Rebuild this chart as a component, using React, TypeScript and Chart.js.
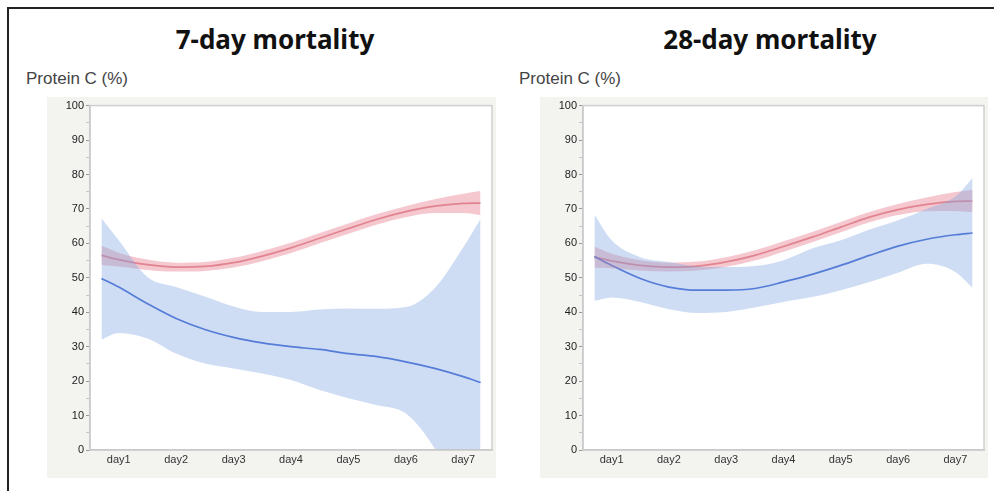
import React, { useEffect, useRef } from "react";
import { Chart, registerables } from "chart.js";

Chart.register(...registerables);

// ---- data ----
const dayTicks = [1, 2, 3, 4, 5, 6, 7];
const dayLabels = ["day1", "day2", "day3", "day4", "day5", "day6", "day7"];
const yTickValues = [0, 5, 10, 15, 20, 25, 30, 35, 40, 45, 50, 55, 60, 65, 70, 75, 80, 85, 90, 95, 100];
const curveX = [0.7, 1, 1.5, 2, 2.5, 3, 3.5, 4, 4.5, 5, 5.5, 6, 6.5, 7, 7.3];

// 7-day mortality panel
const d7SurvMid = [56.5, 55.3, 53.8, 53.1, 53.3, 54.4, 56.3, 58.7, 61.5, 64.3, 67.0, 69.2, 70.8, 71.6, 71.7];
const d7SurvUp = [59.3, 57.3, 55.3, 54.4, 54.6, 55.8, 57.8, 60.2, 63.0, 65.8, 68.5, 70.8, 72.8, 74.4, 75.2];
const d7SurvLo = [53.7, 53.3, 52.3, 51.8, 52.0, 53.0, 54.8, 57.2, 60.0, 62.8, 65.5, 67.6, 68.8, 68.8, 68.2];
const d7DeadMid = [49.8, 47.3, 42.5, 38.2, 35.0, 32.7, 31.1, 30.0, 29.2, 28.0, 27.1, 25.6, 23.7, 21.3, 19.6];
const d7DeadUp = [67.3, 60.9, 50.2, 47.3, 44.6, 41.7, 40.1, 40.1, 40.8, 41.1, 41.0, 41.5, 47.0, 58.9, 67.1];
const d7DeadLo = [32.1, 34.0, 32.4, 28.0, 25.1, 23.7, 22.2, 20.3, 17.4, 15.0, 13.0, 10.6, 0.5, -16.0, -28.0];

// 28-day mortality panel
const d28SurvMid = [56.0, 54.9, 53.6, 53.1, 53.4, 54.6, 56.5, 59.1, 61.8, 64.7, 67.6, 69.8, 71.3, 72.2, 72.3];
const d28SurvUp = [59.1, 57.0, 55.1, 54.4, 54.7, 56.0, 58.0, 60.6, 63.3, 66.2, 69.1, 71.4, 73.3, 74.9, 75.6];
const d28SurvLo = [52.9, 52.8, 52.1, 51.8, 52.1, 53.2, 55.0, 57.6, 60.3, 63.2, 66.1, 68.2, 69.3, 69.4, 69.0];
const d28DeadMid = [56.2, 53.6, 49.8, 47.3, 46.4, 46.4, 46.9, 48.8, 51.0, 53.6, 56.5, 59.2, 61.2, 62.5, 63.0];
const d28DeadUp = [68.4, 60.9, 56.0, 54.6, 53.3, 53.1, 53.4, 55.1, 58.5, 60.9, 64.0, 66.7, 70.0, 73.6, 79.0];
const d28DeadLo = [43.3, 44.3, 43.0, 40.9, 39.8, 40.1, 41.4, 43.0, 44.4, 46.4, 48.8, 51.5, 54.1, 51.7, 47.1];

// ---- styles ----
const BLUE_BAND = "rgba(128,165,225,0.38)";
const BLUE_LINE = "rgb(58,100,210)";
const RED_BAND = "rgba(228,118,132,0.40)";
const RED_LINE = "rgb(226,140,152)";
const PANEL_BG = "#f3f3f0";
const LABEL_FONT = "'Liberation Sans', Arial, sans-serif";

const pts = (arr: number[]) => arr.map((y, i) => ({ x: curveX[i], y }));

const panelPlugin = {
  id: "panelBg",
  beforeDraw(chart: any) {
    const { ctx, chartArea, width, height } = chart;
    ctx.save();
    ctx.fillStyle = PANEL_BG;
    ctx.fillRect(0, 0, width, height);
    ctx.fillStyle = "#ffffff";
    ctx.fillRect(chartArea.left, chartArea.top, chartArea.right - chartArea.left, chartArea.bottom - chartArea.top);
    ctx.restore();
  },
  afterDatasetsDraw(chart: any) {
    const { ctx, chartArea } = chart;
    ctx.save();
    ctx.strokeStyle = "#cfcfcf";
    ctx.lineWidth = 1.5;
    ctx.strokeRect(chartArea.left, chartArea.top, chartArea.right - chartArea.left, chartArea.bottom - chartArea.top);
    ctx.restore();
  },
};

type PanelProps = {
  survMid: number[]; survUp: number[]; survLo: number[];
  deadMid: number[]; deadUp: number[]; deadLo: number[];
  width: number; height: number;
};

function Panel(p: PanelProps) {
  const ref = useRef<HTMLCanvasElement | null>(null);
  useEffect(() => {
    if (!ref.current) return;
    const band = (data: number[], color: string | false) => ({
      data: pts(data),
      borderWidth: 0,
      borderColor: "rgba(0,0,0,0)",
      pointRadius: 0,
      fill: color ? "+1" : false,
      backgroundColor: color || "rgba(0,0,0,0)",
      cubicInterpolationMode: "monotone",
    });
    const line = (data: number[], color: string) => ({
      data: pts(data),
      borderWidth: 1.7,
      borderColor: color,
      pointRadius: 0,
      fill: false,
      cubicInterpolationMode: "monotone",
    });
    const chart = new Chart(ref.current, {
      type: "line",
      data: {
        datasets: [
          band(p.deadUp, BLUE_BAND),
          band(p.deadLo, false),
          band(p.survUp, RED_BAND),
          band(p.survLo, false),
          line(p.deadMid, BLUE_LINE),
          line(p.survMid, RED_LINE),
        ] as any,
      },
      options: {
        animation: false,
        responsive: false,
        devicePixelRatio: 1,
        layout: { padding: { top: 8, right: 4, left: 0, bottom: 0 } },
        plugins: { legend: { display: false }, tooltip: { enabled: false } },
        scales: {
          x: {
            type: "linear",
            min: 0.5,
            max: 7.5,
            afterBuildTicks: (s: any) => { s.ticks = dayTicks.map((v) => ({ value: v })); },
            afterFit: (s: any) => { s.height = 28; },
            ticks: {
              callback: (_v: any, i: number) => dayLabels[i],
              font: { size: 11, family: LABEL_FONT },
              color: "#333",
              padding: 3,
              maxRotation: 0,
              autoSkip: false,
            },
            grid: { drawOnChartArea: false, drawTicks: false },
            border: { color: "#b8b8b8", width: 1.5 },
          },
          y: {
            type: "linear",
            min: 0,
            max: 100,
            afterBuildTicks: (s: any) => { s.ticks = yTickValues.map((v) => ({ value: v })); },
            afterFit: (s: any) => { s.width = 43; },
            ticks: {
              callback: (v: any) => (Number(v) % 10 === 0 ? String(v) : ""),
              font: { size: 11, family: LABEL_FONT },
              color: "#222",
              padding: 2,
              autoSkip: false,
            },
            grid: {
              drawOnChartArea: false,
              tickLength: 4,
              tickColor: (c: any) => (c.tick && c.tick.value % 10 === 0 ? "#999" : "#c4c4c4"),
            },
            border: { color: "#b8b8b8", width: 1.5 },
          },
        },
      } as any,
      plugins: [panelPlugin],
    });
    return () => chart.destroy();
  }, []);
  return <canvas ref={ref} width={p.width} height={p.height} style={{ width: p.width, height: p.height, display: "block" }} />;
}

export default function App() {
  const titleStyle: React.CSSProperties = {
    position: "absolute",
    top: 26,
    transform: "translateX(-50%)",
    fontFamily: "'Noto Sans', sans-serif",
    fontWeight: 700,
    fontSize: 26,
    lineHeight: "26px",
    color: "#111",
    whiteSpace: "nowrap",
  };
  const yTitleStyle: React.CSSProperties = {
    position: "absolute",
    top: 70,
    fontFamily: LABEL_FONT,
    fontSize: 17,
    lineHeight: "17px",
    color: "#444",
    whiteSpace: "nowrap",
  };
  return (
    <div style={{ position: "fixed", left: 0, top: 0, width: 994, height: 491, overflow: "hidden", background: "#fff" }}>
      <div style={{ position: "absolute", left: 7, top: 7, width: 1000, height: 500, borderTop: "2px solid #222", borderLeft: "2px solid #222" }} />
      <div style={{ ...titleStyle, left: 275 }}>7-day mortality</div>
      <div style={{ ...titleStyle, left: 770 }}>28-day mortality</div>
      <div style={{ ...yTitleStyle, left: 26 }}>Protein C (%)</div>
      <div style={{ ...yTitleStyle, left: 519 }}>Protein C (%)</div>
      <div style={{ position: "absolute", left: 47, top: 97 }}>
        <Panel survMid={d7SurvMid} survUp={d7SurvUp} survLo={d7SurvLo}
          deadMid={d7DeadMid} deadUp={d7DeadUp} deadLo={d7DeadLo} width={449} height={381} />
      </div>
      <div style={{ position: "absolute", left: 540, top: 97 }}>
        <Panel survMid={d28SurvMid} survUp={d28SurvUp} survLo={d28SurvLo}
          deadMid={d28DeadMid} deadUp={d28DeadUp} deadLo={d28DeadLo} width={448} height={381} />
      </div>
    </div>
  );
}
